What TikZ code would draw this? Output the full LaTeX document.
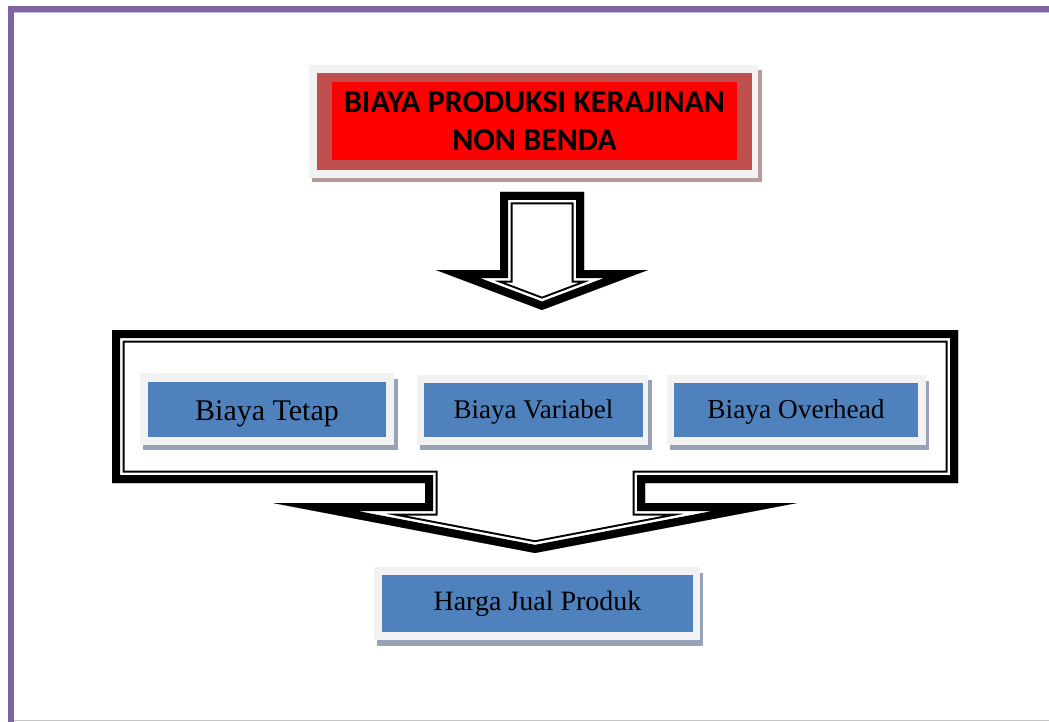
\documentclass[tikz,border=0pt]{standalone}
\usepackage{fontspec}
\setmainfont{Liberation Serif}
\newfontfamily\titlefont[BoldFont={Carlito Bold}]{Carlito}
\definecolor{pagepurple}{RGB}{128,100,162}
\definecolor{lavender}{RGB}{200,188,220}
\definecolor{framegray}{RGB}{242,242,242}
\definecolor{boxblue}{RGB}{79,129,189}
\definecolor{shadowblue}{RGB}{150,163,182}
\definecolor{redbrown}{RGB}{192,80,77}
\definecolor{redshadow}{RGB}{184,152,152}
\definecolor{titlered}{RGB}{255,0,0}
\newcommand{\tripleline}[1]{%
  \begin{scope}
    \clip #1;
    \fill[white] #1;
    \draw[black, line width=25pt, miter limit=25] #1;
    \draw[white, line width=21pt, miter limit=25] #1;
    \draw[black, line width=16pt, miter limit=25] #1;
  \end{scope}}
\tikzset{
  framebox/.style={fill=framegray, draw=none},
  shadowbox/.style={fill=shadowblue, draw=none},
  bluebox/.style={fill=boxblue, draw=none, inner sep=0pt},
  boxtext/.style={anchor=base, inner sep=0pt, text=black},
  titletext/.style={anchor=base, inner sep=0pt, text=black,
    font=\titlefont\bfseries\fontsize{32}{38}\selectfont},
}
\begin{document}
\begin{tikzpicture}[x=1pt,y=-1pt]
\useasboundingbox (0,0) rectangle (1049,722);
\fill[white] (0,0) rectangle (1049,722);
% page border
\fill[pagepurple] (8,6) rectangle (1049,12);
\fill[pagepurple] (8,6) rectangle (14,722);
\draw[lavender, line width=1pt] (14,12.5) -- (1049,12.5);
\draw[black!22, line width=1.2pt] (14,720.8) -- (1049,720.8);

% title box
\fill[redshadow] (312,70) rectangle (762,182);
\fill[framegray] (309,65) rectangle (758,178);
\fill[redbrown] (317,73) rectangle (752,170);
\node[fill=titlered, draw=none, inner sep=0pt, minimum width=405pt, minimum height=78pt] (title) at (534.5,121) {};
\node[titletext] (title1) at (534.5,113) {BIAYA PRODUKSI KERAJINAN};
\node[titletext] (title2) at (534.5,151) {NON BENDA};

% down arrow
\tripleline{(500,192) -- (584,192) -- (584,270) -- (648,270) -- (542,310) -- (436,270) -- (500,270) -- cycle}

% down arrow callout
\tripleline{(112,330) -- (958,330) -- (958,483) -- (645,483) -- (645,503) -- (797,503) -- (535,553) -- (273,503) -- (425,503) -- (425,483) -- (112,483) -- cycle}

% Biaya Tetap
\fill[shadowbox] (143,379) rectangle (398,450);
\fill[framebox] (140,373) rectangle (394,445);
\node[bluebox, minimum width=238pt, minimum height=55pt] (tetap) at (267,409.5) {};
\node[boxtext, font=\fontsize{30}{36}\selectfont] (tetaptext) at (267,420) {Biaya Tetap};

% Biaya Variabel
\fill[shadowbox] (420,380) rectangle (652,450);
\fill[framebox] (417,375) rectangle (648,445);
\node[bluebox, minimum width=219pt, minimum height=54pt] (variabel) at (533.5,410) {};
\node[boxtext, font=\fontsize{27}{32}\selectfont] (variabeltext) at (533.5,418) {Biaya Variabel};

% Biaya Overhead
\fill[shadowbox] (670,381) rectangle (929,450);
\fill[framebox] (667,375) rectangle (926,445);
\node[bluebox, minimum width=244pt, minimum height=54pt] (overhead) at (796,410) {};
\node[boxtext, font=\fontsize{27.4}{33}\selectfont] (overheadtext) at (796,418) {Biaya Overhead};

% Harga Jual Produk
\fill[shadowbox] (377,573) rectangle (703,646);
\fill[framebox] (374,567) rectangle (700,640);
\node[bluebox, minimum width=311pt, minimum height=57pt] (harga) at (537.5,603.5) {};
\node[boxtext, font=\fontsize{28}{34}\selectfont] (hargatext) at (537.5,610) {Harga Jual Produk};
\end{tikzpicture}
\end{document}
